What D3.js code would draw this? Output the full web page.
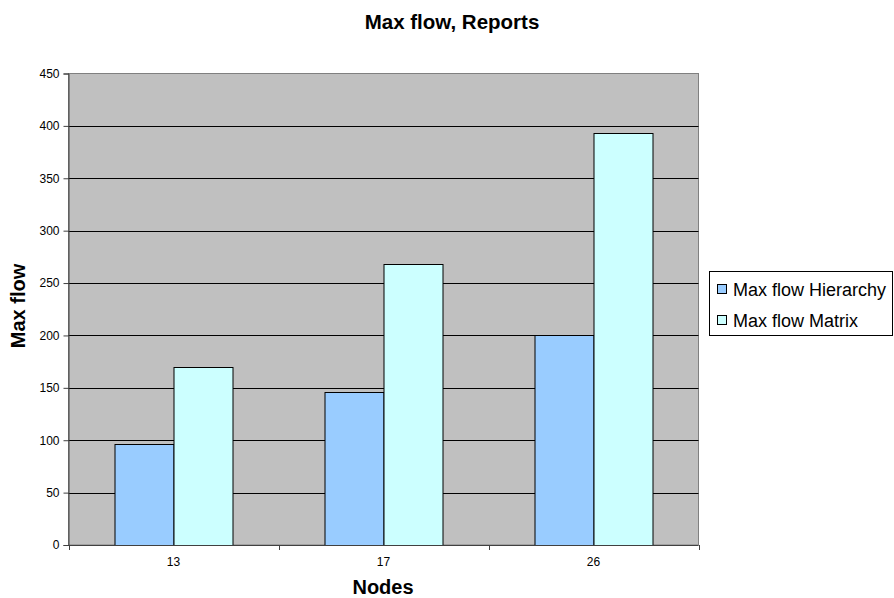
<!DOCTYPE html>
<html>
<head>
<meta charset="utf-8">
<script src="https://cdn.jsdelivr.net/npm/d3@7"></script>
<style>
  html, body { margin: 0; padding: 0; background: #fff; }
  svg { display: block; font-family: "Liberation Sans", Arial, sans-serif; }
</style>
</head>
<body>
<svg id="chart" width="894" height="598"></svg>
<script>
// Chart data
const nodes = ["13", "17", "26"];
const seriesNames = ["Max flow Hierarchy", "Max flow Matrix"];
const hierarchyValues = [96, 146, 200];
const matrixValues = [170, 268, 393];
const yTicks = [0, 50, 100, 150, 200, 250, 300, 350, 400, 450];
const seriesColors = ["#99ccff", "#ccffff"];

const rows = nodes.map((n, i) => ({ node: n, values: [hierarchyValues[i], matrixValues[i]] }));

const svg = d3.select("#chart");
const plot = { left: 68.5, right: 698.5, top: 73.5, bottom: 545 };

const x = d3.scaleBand().domain(nodes).range([plot.left, plot.right]).padding(0);
const xInner = d3.scaleBand().domain([0, 1])
  .range([0, x.bandwidth()]).paddingInner(0).paddingOuter(0.78);
const y = d3.scaleLinear().domain([0, 450]).range([plot.bottom, plot.top]);

// Plot background
svg.append("rect")
  .attr("x", plot.left).attr("y", plot.top)
  .attr("width", plot.right - plot.left).attr("height", plot.bottom - plot.top)
  .attr("fill", "#c0c0c0").attr("stroke", "#808080").attr("stroke-width", 1);

// Horizontal gridlines
svg.append("g").selectAll("line")
  .data(yTicks.filter(t => t > 0 && t < 450))
  .join("line")
  .attr("x1", plot.left).attr("x2", plot.right)
  .attr("y1", d => Math.round(y(d)) + 0.5).attr("y2", d => Math.round(y(d)) + 0.5)
  .attr("stroke", "#000").attr("stroke-width", 1);

// Bars
const groups = svg.append("g").selectAll("g")
  .data(rows).join("g")
  .attr("transform", d => `translate(${x(d.node)},0)`);
groups.selectAll("rect")
  .data(d => d.values.map((v, k) => ({ k, v })))
  .join("rect")
  .attr("x", d => Math.round(xInner(d.k)) + 0.5)
  .attr("y", d => Math.round(y(d.v)) + 0.5)
  .attr("width", Math.round(xInner.bandwidth()))
  .attr("height", d => Math.round(y(0)) - Math.round(y(d.v)))
  .attr("fill", d => seriesColors[d.k])
  .attr("stroke", "#000").attr("stroke-width", 1);

// Y axis
const yAxis = svg.append("g")
  .attr("transform", `translate(${plot.left},0)`)
  .call(d3.axisLeft(y).tickValues(yTicks).tickSize(5).tickPadding(4).tickFormat(d3.format("d")));
yAxis.select(".domain").attr("stroke", "#404040");
yAxis.selectAll(".tick line").attr("stroke", "#404040");
yAxis.selectAll("text").attr("font-size", 12).attr("fill", "#000")
  .attr("font-family", "Liberation Sans, Arial, sans-serif");

// X axis: ticks sit on category boundaries
const xAxisG = svg.append("g").attr("transform", `translate(0,${plot.bottom})`);
xAxisG.append("line")
  .attr("x1", plot.left).attr("x2", plot.right).attr("y1", 0.5).attr("y2", 0.5)
  .attr("stroke", "#404040");
const boundaries = nodes.map(n => x(n)).concat([x(nodes[nodes.length - 1]) + x.bandwidth()]);
xAxisG.selectAll("line.tick").data(boundaries).join("line")
  .attr("class", "tick")
  .attr("x1", d => Math.round(d) + 0.5).attr("x2", d => Math.round(d) + 0.5)
  .attr("y1", 0).attr("y2", 5)
  .attr("stroke", "#404040");
xAxisG.selectAll("text").data(nodes).join("text")
  .attr("x", d => x(d) + x.bandwidth() / 2)
  .attr("y", 21)
  .attr("text-anchor", "middle")
  .attr("font-size", 12)
  .text(d => d);

// Titles
svg.append("text")
  .attr("x", 452).attr("y", 29)
  .attr("text-anchor", "middle")
  .attr("font-size", 20.5).attr("font-weight", "bold")
  .text("Max flow, Reports");

svg.append("text")
  .attr("x", 383).attr("y", 594)
  .attr("text-anchor", "middle")
  .attr("font-size", 20).attr("font-weight", "bold")
  .text("Nodes");

svg.append("text")
  .attr("transform", "translate(25,306) rotate(-90)")
  .attr("text-anchor", "middle")
  .attr("font-size", 20).attr("font-weight", "bold")
  .text("Max flow");

// Legend
const legend = svg.append("g");
legend.append("rect")
  .attr("x", 709.5).attr("y", 271.5).attr("width", 183).attr("height", 64)
  .attr("fill", "#fff").attr("stroke", "#000");
const legendRows = legend.selectAll("g.item").data(seriesNames).join("g")
  .attr("class", "item")
  .attr("transform", (d, i) => `translate(717,${289 + i * 31})`);
legendRows.append("rect")
  .attr("x", 0.5).attr("y", -4.5).attr("width", 9).attr("height", 9)
  .attr("fill", (d, i) => seriesColors[i]).attr("stroke", "#000");
legendRows.append("text")
  .attr("x", 16).attr("y", 6.5)
  .attr("font-size", 18)
  .text(d => d);
</script>
</body>
</html>
